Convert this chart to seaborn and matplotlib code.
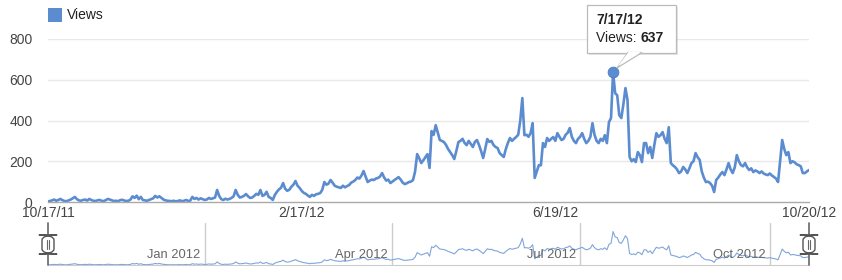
import matplotlib
matplotlib.use("Agg")
import matplotlib.pyplot as plt
from matplotlib.patches import Rectangle, FancyBboxPatch, Polygon, Ellipse
import seaborn as sns
import pandas as pd
import numpy as np

# ---------------- data ----------------
start_date = "2011-10-17"
views = [
    2, 5, 8, 12, 6, 10, 15, 9, 5, 4,
    8, 12, 18, 25, 14, 8, 6, 10, 12, 7,
    15, 10, 6, 5, 8, 10, 6, 4, 9, 15,
    12, 8, 5, 6, 4, 9, 11, 7, 5, 6,
    12, 28, 20, 31, 14, 25, 10, 8, 6, 10,
    14, 18, 30, 22, 28, 20, 12, 8, 6, 5,
    4, 6, 3, 5, 8, 4, 6, 10, 5, 7,
    25, 15, 20, 12, 18, 14, 10, 12, 20, 15,
    18, 22, 59, 30, 14, 10, 16, 12, 15, 20,
    28, 59, 35, 22, 25, 30, 39, 28, 20, 22,
    30, 40, 35, 59, 30, 35, 50, 25, 20, 10,
    35, 50, 62, 70, 93, 65, 55, 60, 75, 85,
    103, 80, 69, 55, 45, 40, 32, 25, 35, 30,
    38, 40, 44, 60, 98, 85, 90, 108, 95, 80,
    75, 72, 69, 80, 72, 78, 83, 95, 100, 108,
    120, 115, 130, 152, 125, 98, 105, 110, 108, 115,
    118, 125, 142, 120, 105, 110, 93, 100, 108, 115,
    122, 110, 95, 88, 92, 98, 100, 108, 150, 235,
    215, 191, 205, 220, 235, 167, 348, 330, 377, 340,
    304, 300, 294, 280, 260, 245, 230, 211, 250, 294,
    300, 310, 290, 279, 300, 285, 270, 295, 304, 280,
    250, 216, 260, 309, 295, 300, 280, 270, 265, 240,
    230, 221, 260, 290, 314, 300, 310, 319, 330, 400,
    510, 328, 330, 320, 338, 387, 118, 150, 181, 180,
    289, 270, 314, 300, 310, 319, 300, 338, 320, 304,
    310, 330, 340, 363, 320, 300, 289, 310, 320, 338,
    310, 289, 300, 320, 387, 330, 300, 289, 310, 300,
    328, 289, 392, 412, 637, 534, 524, 426, 412, 480,
    559, 500, 221, 200, 210, 196, 245, 230, 196, 289,
    289, 240, 270, 216, 280, 338, 320, 328, 343, 310,
    289, 367, 191, 180, 172, 160, 142, 150, 172, 160,
    142, 165, 191, 200, 240, 220, 206, 150, 120, 98,
    100, 93, 80, 49, 108, 120, 135, 147, 132, 160,
    191, 160, 142, 170, 230, 200, 181, 175, 191, 170,
    157, 165, 147, 155, 150, 142, 150, 140, 135, 132,
    140, 130, 123, 115, 98, 200, 304, 260, 230, 245,
    191, 200, 195, 185, 181, 175, 142, 142, 150, 157,
]
x_tick_dates = ["2011-10-17", "2012-02-17", "2012-06-19", "2012-10-20"]
x_tick_labels = ["10/17/11", "2/17/12", "6/19/12", "10/20/12"]
y_ticks = [0, 200, 400, 600, 800]
nav_dates = ["2012-01-01", "2012-04-01", "2012-07-01", "2012-10-01"]
nav_labels = ["Jan 2012", "Apr 2012", "Jul 2012", "Oct 2012"]
series_name = "Views"

dates = pd.date_range(start_date, periods=len(views), freq="D")
df = pd.DataFrame({"date": dates, "views": views})

# ---------------- style ----------------
sns.set_style("white")
plt.rcParams["font.family"] = ["Liberation Sans", "DejaVu Sans"]

W, H = 842, 280
fig = plt.figure(figsize=(W / 100, H / 100), dpi=100)

def fx(px):
    return px / W

def fy(py):
    return 1 - py / H

BLUE = "#5b8ccf"
TXT = "#444444"

# main axes: x 48..809, y 39..202
ax = fig.add_axes([fx(48), fy(202), fx(809) - fx(48), fy(39) - fy(202)])
sns.lineplot(data=df, x="date", y="views", ax=ax, color=BLUE, linewidth=1.9)
ax.set_xlim(dates[0], dates[-1])
ax.set_ylim(0, 800)
ax.set_yticks(y_ticks)
ax.set_yticklabels([str(v) for v in y_ticks])
ax.set_xticks(pd.to_datetime(x_tick_dates))
ax.set_xticklabels(x_tick_labels)
ax.tick_params(axis="both", length=0, labelsize=10, colors=TXT)
ax.tick_params(axis="y", pad=11)
ax.tick_params(axis="x", pad=3)
ax.set_xlabel("")
ax.set_ylabel("")
for s in ["top", "right", "left"]:
    ax.spines[s].set_visible(False)
ax.spines["bottom"].set_color("#aaaaaa")
ax.spines["bottom"].set_linewidth(1.0)
for v in y_ticks[1:]:
    ax.axhline(v, color="#e8e8e8", linewidth=1.0, zorder=0)
ax.patch.set_alpha(0)

# peak marker
imax = int(np.argmax(views))
ax.scatter([dates[imax]], [views[imax]], s=60, color=BLUE, zorder=5,
           edgecolor="#4a7cc0", linewidth=0.6)

# legend
fig.patches.append(Rectangle((fx(48), fy(22)), fx(14), fy(8) - fy(22),
                             transform=fig.transFigure, facecolor=BLUE,
                             edgecolor="none"))
fig.text(fx(67), fy(15), series_name, fontsize=10, color="#222222",
         va="center", ha="left")

# tooltip
bx0, by0, bx1, by1 = 587, 5, 676, 53
shadow = FancyBboxPatch((fx(bx0 + 2), fy(by1 + 2)), fx(bx1 - bx0), fy(by0) - fy(by1),
                        boxstyle="square,pad=0", transform=fig.transFigure,
                        facecolor="#000000", alpha=0.10, edgecolor="none", zorder=8)
fig.patches.append(shadow)
box = FancyBboxPatch((fx(bx0), fy(by1)), fx(bx1 - bx0), fy(by0) - fy(by1),
                     boxstyle="square,pad=0", transform=fig.transFigure,
                     facecolor="white", edgecolor="#bbbbbb", linewidth=0.9, zorder=9)
fig.patches.append(box)
ptr = Polygon([(fx(628), fy(by1 - 0.5)), (fx(642), fy(by1 - 0.5)), (fx(617), fy(68))],
              closed=True, transform=fig.transFigure, facecolor="white",
              edgecolor="#bbbbbb", linewidth=0.9, zorder=10)
fig.patches.append(ptr)
ptr2 = Polygon([(fx(628.8), fy(by1 - 1.2)), (fx(641.2), fy(by1 - 1.2)), (fx(618), fy(66))],
               closed=True, transform=fig.transFigure, facecolor="white",
               edgecolor="none", zorder=11)
fig.patches.append(ptr2)
tip_date = dates[imax].strftime("%-m/%-d/%y")
fig.text(fx(596), fy(20), tip_date, fontsize=10, fontweight="bold",
         color="#222222", va="center", ha="left", zorder=12)
t1 = fig.text(fx(596), fy(38), f"{series_name}: ", fontsize=10, color="#222222",
              va="center", ha="left", zorder=12)
fig.canvas.draw()
bb = t1.get_window_extent()
fig.text(bb.x1 / W, fy(38), f"{views[imax]}", fontsize=10, fontweight="bold",
         color="#222222", va="center", ha="left", zorder=12)

# navigator axes: x 48..809, y 223..265
nav = fig.add_axes([fx(48), fy(265), fx(809) - fx(48), fy(223) - fy(265)])
sns.lineplot(data=df, x="date", y="views", ax=nav, color="#7fa6dc", linewidth=0.8)
nav.set_xlim(dates[0], dates[-1])
nav.set_ylim(0, 800)
nav.set_xticks([])
nav.set_yticks([])
nav.set_xlabel("")
nav.set_ylabel("")
for s in ["top", "right", "left"]:
    nav.spines[s].set_visible(False)
nav.spines["bottom"].set_color("#cccccc")
nav.patch.set_alpha(0)
for d, lab in zip(pd.to_datetime(nav_dates), nav_labels):
    nav.axvline(d, color="#cccccc", linewidth=1.0, zorder=0)
    nav.annotate(lab, xy=(d, 0), xycoords=("data", "axes fraction"),
                 xytext=(-3, 3), textcoords="offset points",
                 fontsize=9.3, color="#666666", ha="right", va="bottom")

# navigator handles
for hx in (48, 809):
    fig.add_artist(plt.Line2D([fx(hx), fx(hx)], [fy(223), fy(265)],
                              transform=fig.transFigure, color="#666666",
                              linewidth=1.2, zorder=12))
    fig.patches.append(FancyBboxPatch((fx(hx - 6), fy(254)), fx(12), fy(235) - fy(254),
                                      boxstyle="round,pad=0,rounding_size=0.018",
                                      transform=fig.transFigure, facecolor="white",
                                      edgecolor="#555555", linewidth=1.0, zorder=13))
    for dx in (-1.2, 1.2):
        fig.add_artist(plt.Line2D([fx(hx + dx), fx(hx + dx)], [fy(240), fy(249)],
                                  transform=fig.transFigure, color="#666666",
                                  linewidth=0.8, zorder=14))

fig.savefig("out.png", dpi=100)
